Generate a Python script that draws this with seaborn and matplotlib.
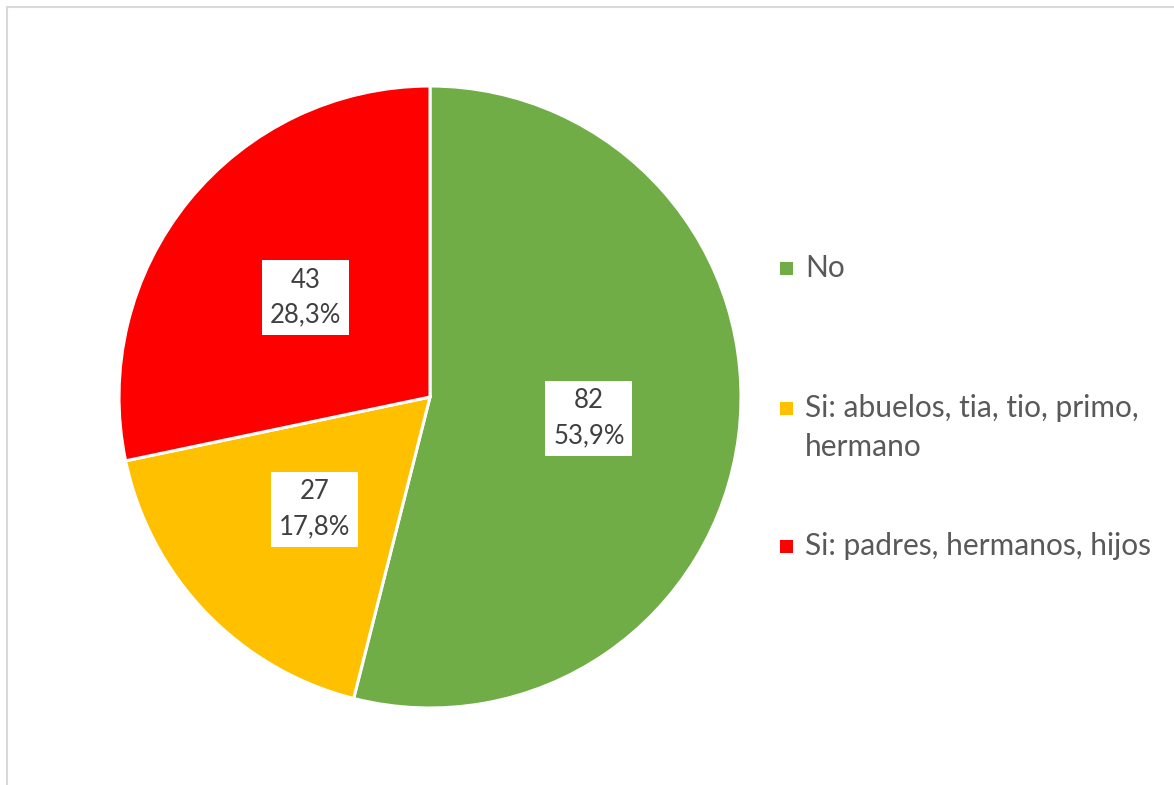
import matplotlib
matplotlib.use("Agg")
import matplotlib.pyplot as plt
from matplotlib.patches import Rectangle
from matplotlib.lines import Line2D
import numpy as np
import seaborn as sns

# Antecedentes familiares: respuestas por categoría
categories = ["No", "Si: abuelos, tia, tio, primo,\nhermano", "Si: padres, hermanos, hijos"]
counts = [82, 27, 43]
percents = ["53,9%", "17,8%", "28,3%"]
colors = ["#70AD47", "#FFC000", "#FF0000"]

sns.set_theme(style="white")
plt.rcParams["font.family"] = ["Lato", "DejaVu Sans"]

W, H = 1174, 785
fig = plt.figure(figsize=(W / 100, H / 100), dpi=100)
fig.patch.set_facecolor("white")

# outer frame (top and left edges visible)
fig.add_artist(Line2D([6.5 / W, 1.0], [1 - 6.5 / H, 1 - 6.5 / H],
                      transform=fig.transFigure, color="#d9d9d9", lw=1.5))
fig.add_artist(Line2D([6.5 / W, 6.5 / W], [0.0, 1 - 6.5 / H],
                      transform=fig.transFigure, color="#d9d9d9", lw=1.5))

cx, cy, r = 430, 397, 311
ax = fig.add_axes([(cx - r) / W, (H - cy - r) / H, 2 * r / W, 2 * r / H])
palette = sns.color_palette(colors)

wedges, _ = ax.pie(counts, colors=palette, startangle=90, counterclock=False,
                   radius=1.0, wedgeprops=dict(edgecolor="white", linewidth=2.2))
ax.set_xlim(-1, 1)
ax.set_ylim(-1, 1)
ax.set_aspect("equal")
ax.axis("off")

total = sum(counts)
angle = 90.0
for c, p in zip(counts, percents):
    span = 360.0 * c / total
    mid = np.deg2rad(angle - span / 2)
    angle -= span
    ax.text(0.515 * np.cos(mid), 0.515 * np.sin(mid) - 0.005, f"{c}\n{p}",
            ha="center", va="center", fontsize=18.5, color="#404040",
            linespacing=1.5,
            bbox=dict(boxstyle="square,pad=0.3", facecolor="white", edgecolor="none"))

# legend
leg_y = [268, 408, 546]
for cat, col, y in zip(categories, colors, leg_y):
    fig.add_artist(Rectangle((780 / W, 1 - (y + 6.5) / H), 13 / W, 13 / H,
                             transform=fig.transFigure, facecolor=col, edgecolor="none"))
    fig.text(805 / W, 1 - (y - 14) / H, cat, ha="left", va="top",
             fontsize=21.5, color="#595959", linespacing=1.5)

fig.savefig("out.png", dpi=100, facecolor="white")
